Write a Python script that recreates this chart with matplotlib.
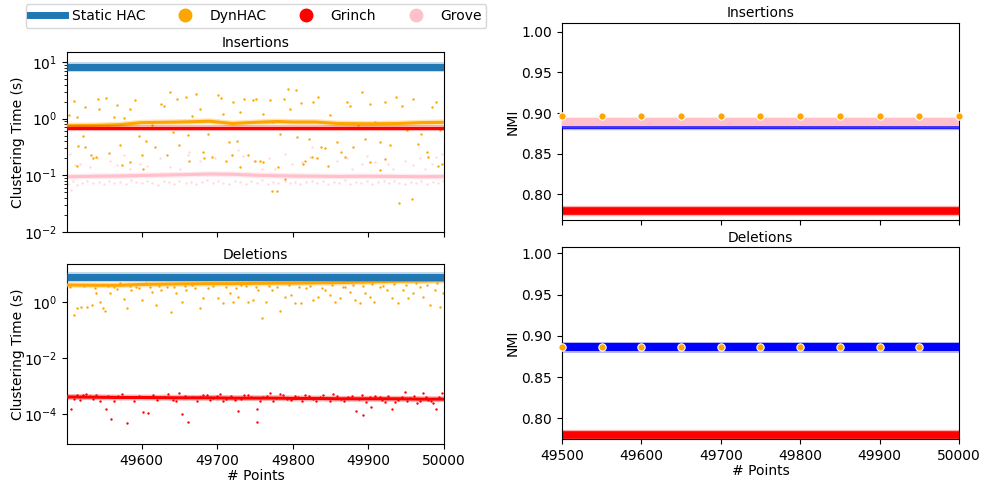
import numpy as np
import matplotlib.pyplot as plt
from matplotlib.lines import Line2D

# ---- left column: clustering time (s) ----
# rolling means / constant lines
line_x = [49501, 49540, 49570, 49600, 49650, 49690, 49720, 49750, 49780,
          49800, 49830, 49860, 49900, 49940, 49970, 50000]
static_time_ins = [8.1, 8.1, 8.1, 8.1, 8.1, 8.1, 8.1, 8.1, 8.1,
                   8.1, 8.1, 8.1, 8.1, 8.1, 8.1, 8.1]
dynhac_line_ins = [0.75, 0.76, 0.78, 0.85, 0.87, 0.90, 0.82, 0.86, 0.89,
                   0.87, 0.87, 0.82, 0.81, 0.82, 0.85, 0.86]
grinch_line_ins = [0.68, 0.68, 0.68, 0.68, 0.68, 0.68, 0.68, 0.68, 0.68,
                   0.68, 0.68, 0.68, 0.68, 0.68, 0.68, 0.68]
grove_line_ins = [0.094, 0.096, 0.097, 0.099, 0.102, 0.105, 0.104, 0.100, 0.098,
                  0.097, 0.096, 0.095, 0.096, 0.095, 0.094, 0.095]

static_time_del = [8.0, 8.0, 8.0, 8.0, 8.0, 8.0, 8.0, 8.0, 8.0,
                   8.0, 8.0, 8.0, 8.0, 8.0, 8.0, 8.0]
dynhac_line_del = [4.2, 4.1, 4.1, 4.4, 4.6, 4.7, 4.7, 4.8, 4.9,
                   4.9, 5.0, 5.1, 5.4, 5.7, 5.8, 6.0]
grinch_line_del = [4.2e-4, 4.1e-4, 4.0e-4, 4.0e-4, 3.9e-4, 3.9e-4, 3.8e-4, 3.8e-4, 3.8e-4,
                   3.7e-4, 3.7e-4, 3.6e-4, 3.6e-4, 3.6e-4, 3.5e-4, 3.5e-4]

# individual measurements (insertions)
dyn_ins_x = [49504, 49510, 49514, 49516, 49522, 49525, 49533, 49539, 49542, 49543,
             49553, 49555, 49557, 49564, 49567, 49571, 49576, 49585, 49591, 49597,
             49601, 49606, 49613, 49617, 49626, 49630, 49633, 49638, 49641, 49647,
             49650, 49659, 49661, 49666, 49672, 49677, 49681, 49688, 49693, 49701,
             49705, 49708, 49712, 49716, 49721, 49726, 49730, 49736, 49741, 49747,
             49751, 49756, 49761, 49770, 49774, 49772, 49779, 49783, 49788, 49794,
             49796, 49804, 49806, 49811, 49816, 49822, 49827, 49833, 49837, 49842,
             49849, 49853, 49859, 49864, 49871, 49875, 49880, 49886, 49891, 49895,
             49902, 49909, 49915, 49922, 49928, 49937, 49941, 49944, 49957, 49951,
             49959, 49966, 49970, 49977, 49984, 49990, 49995, 49997,
             49662, 49682, 49719, 49730, 49750, 49761, 49781, 49790, 49814, 49825,
             49832, 49847, 49869, 49902, 49915, 49922, 49979, 49992,
             49514, 49525, 49536, 49574, 49585, 49602]
dyn_ins_y = [1.18, 2.08, 1.07, 0.33, 0.49, 1.61, 0.23, 0.21, 2.19, 1.50,
             2.32, 0.74, 0.25, 1.07, 1.77, 0.34, 1.03, 1.50, 2.16, 0.49,
             0.23, 0.40, 0.77, 0.32, 1.84, 1.65, 0.23, 2.99, 0.58, 2.25,
             0.34, 2.41, 0.52, 1.11, 2.76, 1.50, 0.26, 0.54, 0.21, 2.58,
             2.32, 1.22, 0.18, 0.39, 1.97, 0.41, 1.31, 2.19, 0.23, 2.11,
             2.25, 0.18, 1.22, 2.11, 0.87, 0.053, 0.053, 0.54, 2.25, 3.38,
             1.50, 3.16, 0.47, 1.92, 0.18, 0.44, 1.97, 2.41, 0.32, 0.30,
             1.15, 0.67, 0.39, 0.26, 1.97, 1.65, 0.32, 0.76, 2.96, 0.44,
             1.84, 0.87, 0.39, 1.97, 0.34, 2.41, 0.032, 1.65, 0.038, 0.62,
             2.25, 0.36, 0.54, 0.26, 1.61, 1.97, 0.62, 0.16,
             0.18, 0.20, 0.225, 0.14, 0.18, 0.17, 0.14, 0.087, 0.155, 0.21,
             0.20, 0.146, 0.21, 0.17, 0.123, 0.19, 0.21, 0.146,
             0.146, 0.32, 0.20, 0.15, 0.17, 0.128]

grove_ins_x = [49505, 49512, 49519, 49532, 49541, 49558, 49567, 49576, 49585, 49598,
               49607, 49624, 49638, 49651, 49661, 49662, 49677, 49697, 49719, 49728,
               49734, 49748, 49759, 49768, 49776, 49790, 49799, 49812, 49823, 49825,
               49858, 49871, 49878, 49891, 49898, 49909, 49926, 49933, 49948, 49959,
               49968, 49975, 49984, 49990, 49997, 49506,
               49502, 49509, 49515, 49521, 49528, 49535, 49543, 49550, 49557, 49564,
               49571, 49579, 49586, 49593, 49600, 49607, 49614, 49622, 49629, 49636,
               49643, 49650, 49658, 49665, 49672, 49680, 49687, 49694, 49701, 49708,
               49716, 49723, 49730, 49738, 49745, 49752, 49759, 49767, 49774, 49781,
               49789, 49796, 49803, 49810, 49818, 49825, 49832, 49840, 49847, 49854,
               49861, 49869, 49876, 49883, 49890, 49898, 49905, 49912, 49920, 49927,
               49934, 49941, 49949, 49956, 49963, 49970, 49978, 49985, 49992, 49999]
grove_ins_y = [0.24, 0.15, 0.16, 0.14, 0.20, 0.18, 0.15, 0.23, 0.13, 0.16,
               0.146, 0.20, 0.14, 0.128, 0.225, 0.26, 0.18, 0.20, 0.23, 0.28,
               0.22, 0.18, 0.13, 0.20, 0.13, 0.24, 0.16, 0.17, 0.21, 0.32,
               0.18, 0.205, 0.13, 0.16, 0.216, 0.17, 0.16, 0.128, 0.18, 0.15,
               0.20, 0.13, 0.16, 0.21, 0.24, 0.055,
               0.071, 0.078, 0.066, 0.074, 0.080, 0.072, 0.076, 0.069, 0.079, 0.073,
               0.077, 0.070, 0.081, 0.075, 0.072, 0.078, 0.074, 0.068, 0.080, 0.076,
               0.071, 0.079, 0.073, 0.077, 0.070, 0.075, 0.082, 0.072, 0.078, 0.074,
               0.069, 0.080, 0.076, 0.071, 0.078, 0.073, 0.081, 0.070, 0.076, 0.074,
               0.079, 0.072, 0.077, 0.070, 0.075, 0.080, 0.073, 0.078, 0.071, 0.076,
               0.074, 0.081, 0.069, 0.077, 0.073, 0.079, 0.071, 0.075, 0.078, 0.072,
               0.080, 0.074, 0.070, 0.077, 0.073, 0.079, 0.071, 0.076, 0.072, 0.078]

# individual measurements (deletions)
dyn_del_x = [49511, 49515, 49520, 49528, 49534, 49540, 49545, 49549, 49552, 49558,
             49564, 49571, 49576, 49581, 49586, 49593, 49600, 49606, 49613, 49619,
             49626, 49633, 49639, 49646, 49653, 49659, 49666, 49677, 49681, 49688,
             49701, 49708, 49717, 49721, 49728, 49732, 49741, 49747, 49754, 49759,
             49765, 49772, 49783, 49789, 49798, 49803, 49811, 49818, 49827, 49833,
             49842, 49849, 49856, 49862, 49869, 49875, 49882, 49889, 49895, 49902,
             49908, 49915, 49924, 49931, 49939, 49946, 49953, 49959, 49968, 49972,
             49981, 49988, 49995, 49999,
             49505, 49524, 49538, 49556, 49568, 49584, 49597, 49611, 49623, 49643,
             49657, 49671, 49694, 49712, 49725, 49738, 49751, 49768, 49779, 49795,
             49808, 49823, 49838, 49852, 49866, 49879, 49893, 49905, 49919, 49934,
             49950, 49963, 49977, 49991]
dyn_del_y = [0.35, 0.61, 0.70, 0.66, 0.80, 2.10, 1.06, 0.61, 0.50, 2.10,
             3.63, 4.77, 1.28, 0.61, 2.76, 3.63, 1.21, 4.77, 2.40, 0.80,
             2.76, 3.63, 0.46, 2.10, 1.06, 2.76, 4.16, 0.61, 1.39, 3.16,
             1.39, 0.92, 2.10, 1.06, 1.59, 4.16, 1.06, 1.21, 2.76, 0.27,
             1.06, 2.76, 0.49, 1.59, 1.83, 0.92, 0.92, 3.16, 1.21, 1.59,
             2.76, 1.83, 1.06, 1.39, 3.63, 2.40, 1.21, 0.92, 2.10, 1.59,
             1.06, 3.63, 2.76, 1.39, 0.92, 2.76, 1.39, 2.10, 3.63, 1.59,
             0.80, 2.76, 0.70, 2.10,
             3.6, 3.9, 3.3, 3.8, 3.1, 3.9, 3.3, 3.7, 3.9, 3.5,
             3.8, 3.2, 3.9, 3.6, 3.3, 4.0, 3.5, 3.9, 3.6, 4.1,
             3.5, 4.0, 3.4, 4.2, 3.7, 4.3, 3.9, 4.5, 3.8, 4.6,
             4.1, 4.8, 4.2, 4.9]

grinch_del_x = [49507, 49514, 49522, 49531, 49540, 49549, 49553, 49560, 49569, 49580,
                49586, 49602, 49608, 49615, 49624, 49635, 49641, 49650, 49653, 49661,
                49668, 49677, 49686, 49695, 49703, 49712, 49723, 49728, 49736, 49745,
                49752, 49753, 49761, 49770, 49778, 49787, 49798, 49807, 49816, 49827,
                49836, 49844, 49853, 49864, 49873, 49884, 49891, 49893, 49902, 49904,
                49915, 49922, 49931, 49939, 49948, 49955, 49964, 49972, 49979, 49986,
                49990, 49997,
                49503, 49510, 49518, 49526, 49535, 49545, 49556, 49563, 49574, 49590,
                49597, 49620, 49629, 49645, 49657, 49673, 49681, 49690, 49699, 49707,
                49718, 49732, 49741, 49757, 49766, 49774, 49783, 49792, 49803, 49812,
                49821, 49831, 49840, 49849, 49859, 49868, 49878, 49887, 49897, 49909,
                49918, 49926, 49935, 49944, 49951, 49960, 49968, 49976, 49983, 49993]
grinch_del_y = [1.5e-4, 4.9e-4, 4.8e-4, 4.5e-4, 4.9e-4, 4.3e-4, 1.6e-4, 6.8e-5, 4.65e-4, 5.1e-5,
                4.3e-4, 1.2e-4, 1.1e-4, 4.9e-4, 4.3e-4, 5.3e-4, 3.2e-4, 6.0e-4, 1.0e-4, 5.5e-5,
                4.3e-4, 4.3e-4, 4.9e-4, 3.7e-4, 5.3e-4, 3.4e-4, 3.2e-4, 1.35e-4, 4.9e-4, 4.3e-4,
                1.6e-4, 5.2e-5, 4.3e-4, 5.6e-4, 3.7e-4, 4.9e-4, 3.2e-4, 4.3e-4, 4.9e-4, 3.4e-4,
                4.3e-4, 3.7e-4, 5.3e-4, 3.4e-4, 4.3e-4, 1.35e-4, 4.9e-4, 9.6e-5, 4.3e-4, 1.9e-4,
                4.3e-4, 2.8e-4, 1.6e-4, 3.2e-4, 6.4e-4, 3.7e-4, 2.5e-4, 5.6e-4, 3.2e-4, 2.5e-4,
                1.6e-4, 5.6e-4,
                4.1e-4, 3.6e-4, 3.3e-4, 5.2e-4, 3.5e-4, 2.9e-4, 4.6e-4, 3.0e-4, 5.4e-4, 3.1e-4,
                4.7e-4, 3.3e-4, 4.1e-4, 2.9e-4, 4.6e-4, 3.1e-4, 5.0e-4, 3.2e-4, 4.4e-4, 2.9e-4,
                4.6e-4, 3.6e-4, 5.1e-4, 3.0e-4, 4.5e-4, 3.1e-4, 5.3e-4, 3.4e-4, 4.6e-4, 2.9e-4,
                4.4e-4, 3.0e-4, 4.8e-4, 3.1e-4, 4.4e-4, 2.9e-4, 4.6e-4, 3.5e-4, 2.8e-4, 4.7e-4,
                3.3e-4, 4.5e-4, 2.7e-4, 4.2e-4, 3.0e-4, 4.6e-4, 3.1e-4, 4.2e-4, 2.9e-4, 4.1e-4]

# ---- right column: NMI ----
nmi_x = [49500, 49550, 49600, 49650, 49700, 49750, 49800, 49850, 49900, 49950, 50000]
static_nmi_ins = [0.8823] * 11
grove_nmi_ins = [0.8895] * 11
grinch_nmi_ins = [0.7796] * 11
dynhac_nmi_ins = [0.8969] * 11
static_nmi_del = [0.8858] * 11
grinch_nmi_del = [0.7796] * 11
dynhac_nmi_del = [0.8869] * 10

TAB_BLUE = '#1f77b4'
ORANGE = 'orange'
RED = 'red'
PINK = 'pink'

fig = plt.figure(figsize=(9.83, 4.82), dpi=100)
ax1 = fig.add_axes([0.068, 0.519, 0.3837, 0.373])
ax2 = fig.add_axes([0.068, 0.0788, 0.3837, 0.3728])
ax3 = fig.add_axes([0.5717, 0.5436, 0.4039, 0.4094])
ax4 = fig.add_axes([0.5717, 0.0886, 0.4039, 0.3984])


def band_line(ax, x, y, color, lw, z):
    ax.plot(x, y, color=color, lw=lw + 2, alpha=0.3, zorder=z, solid_capstyle='butt')
    ax.plot(x, y, color=color, lw=lw, zorder=z + 0.1, solid_capstyle='butt')


# insertions time
ax1.scatter(grove_ins_x, grove_ins_y, s=3, color=PINK, alpha=0.6, lw=0, zorder=1)
ax1.scatter(dyn_ins_x, dyn_ins_y, s=3, color=ORANGE, lw=0, zorder=1)
band_line(ax1, line_x, grove_line_ins, PINK, 2.2, 2)
band_line(ax1, line_x, dynhac_line_ins, ORANGE, 2.2, 3)
band_line(ax1, line_x, grinch_line_ins, RED, 2.2, 4)
band_line(ax1, line_x, static_time_ins, TAB_BLUE, 5, 5)
ax1.set_yscale('log')
ax1.set_ylim(1e-2, 15)
ax1.set_yticks([1e-2, 1e-1, 1e0, 1e1])
ax1.set_title('Insertions', fontsize=10, pad=4)
ax1.set_ylabel('Clustering Time (s)', fontsize=10, labelpad=-1)

# deletions time
ax2.scatter(dyn_del_x, dyn_del_y, s=3, color=ORANGE, lw=0, zorder=1)
ax2.scatter(grinch_del_x, grinch_del_y, s=3, color=RED, lw=0, zorder=1)
band_line(ax2, line_x, grinch_line_del, RED, 2.2, 3)
band_line(ax2, line_x, dynhac_line_del, ORANGE, 2.2, 4)
band_line(ax2, line_x, static_time_del, TAB_BLUE, 5, 5)
ax2.set_yscale('log')
ax2.set_ylim(8.7e-6, 23)
ax2.set_yticks([1e-4, 1e-2, 1e0])
ax2.set_title('Deletions', fontsize=10, pad=4)
ax2.set_ylabel('Clustering Time (s)', fontsize=10, labelpad=-1)
ax2.set_xlabel('# Points', fontsize=10, labelpad=1)

for ax in (ax1, ax2):
    ax.set_xlim(49501, 50000)
    ax.set_xticks([49600, 49700, 49800, 49900, 50000])
ax1.set_xticklabels([])

# insertions NMI
band_line(ax3, nmi_x, grinch_nmi_ins, RED, 5.5, 2)
band_line(ax3, nmi_x, static_nmi_ins, 'blue', 2.6, 3)
band_line(ax3, nmi_x, grove_nmi_ins, PINK, 5.8, 4)
ax3.scatter(nmi_x, dynhac_nmi_ins, s=28, color=ORANGE, edgecolor='white', lw=0.8, zorder=6, clip_on=False)
ax3.set_ylim(0.768, 1.0115)
ax3.set_title('Insertions', fontsize=10, pad=4)
ax3.set_ylabel('NMI', fontsize=10, labelpad=1)

# deletions NMI
band_line(ax4, nmi_x, grinch_nmi_del, RED, 5.5, 2)
band_line(ax4, nmi_x, static_nmi_del, 'blue', 5.8, 3)
ax4.scatter(nmi_x[:10], dynhac_nmi_del, s=28, color=ORANGE, edgecolor='white', lw=0.8, zorder=6, clip_on=False)
ax4.set_ylim(0.7745, 1.0073)
ax4.set_title('Deletions', fontsize=10, pad=4)
ax4.set_ylabel('NMI', fontsize=10, labelpad=1)
ax4.set_xlabel('# Points', fontsize=10, labelpad=1)

for ax in (ax3, ax4):
    ax.set_xlim(49500, 50000)
    ax.set_xticks([49500, 49600, 49700, 49800, 49900, 50000])
    ax.set_yticks([0.80, 0.85, 0.90, 0.95, 1.00])
ax3.set_xticklabels([])

for ax in (ax1, ax2, ax3, ax4):
    ax.tick_params(labelsize=10)

handles = [
    Line2D([0], [0], color=TAB_BLUE, lw=5),
    Line2D([0], [0], color=ORANGE, marker='o', ls='', markersize=9),
    Line2D([0], [0], color=RED, marker='o', ls='', markersize=9),
    Line2D([0], [0], color=PINK, marker='o', ls='', markersize=9),
]
fig.legend(handles, ['Static HAC', 'DynHAC', 'Grinch', 'Grove'],
           loc='upper left', bbox_to_anchor=(0.026, 0.992), ncol=4,
           fontsize=10, handlelength=2.5, handletextpad=0.5,
           columnspacing=1.6, borderaxespad=0, borderpad=0.35)

fig.savefig('out.png', dpi=100)
